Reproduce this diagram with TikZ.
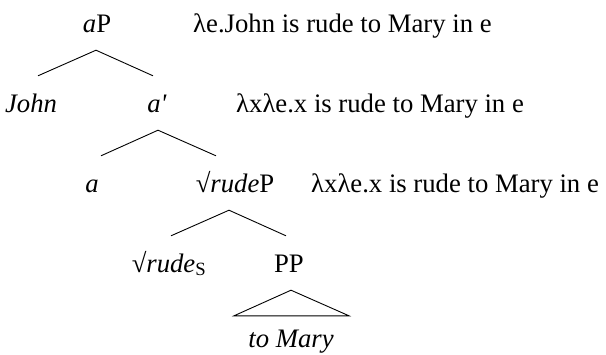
\documentclass[tikz,border=0pt]{standalone}
\usepackage{fontspec}
\setmainfont{Liberation Serif}
\begin{document}
\begin{tikzpicture}[x=1pt,y=-1pt,
        tnode/.style={anchor=base,inner sep=0pt,text height=36pt,text depth=18pt},
        sem/.style={anchor=base west,inner sep=0pt},
        branch/.style={line width=0.9pt}]
                \useasboundingbox (0,0) rectangle (606,354);
                {\fontsize{26.7}{32}\selectfont
                
                % Marking node aP
                \draw (97.000000,32.000000) node (aP) [tnode] {\textit{a}P};%
                \draw (193.000000,32.000000) node (semaP) [sem] {λe.John is rude to Mary in e};%
                
                % Marking nodes John and a'
                \draw (31.000000,112.000000) node (John) [tnode] {\textit{John}};%
                \draw (157.000000,112.000000) node (abar) [tnode] {\textit{a\textquotesingle}};%
                \draw (236.000000,112.000000) node (semabar) [sem] {λxλe.x is rude to Mary in e};%
                
                % Marking nodes a and rootP
                \draw (92.000000,192.000000) node (a) [tnode] {\textit{a}};%
                \draw (235.000000,192.000000) node (rootP) [tnode] {√\textit{rude}P};%
                \draw (311.000000,192.000000) node (semrootP) [sem] {λxλe.x is rude to Mary in e};%
                
                % Marking nodes root and PP
                \draw (169.000000,272.000000) node (root) [tnode] {√\textit{rude}\textsubscript{\upshape S}};%
                \draw (289.000000,272.000000) node (PP) [tnode] {PP};%
                
                % Marking node to Mary
                \draw (291.000000,347.000000) node (toMary) [tnode,text height=31pt,text depth=5pt] {\textit{to Mary}};%
                
                % Drawing branches aP John, aP a'
                \draw [branch] ([xshift=7pt]John.north) -- ([xshift=-1pt]aP.south) -- ([xshift=-4pt]abar.north);%
                
                % Drawing branches a' a, a' rootP
                \draw [branch] ([xshift=9pt]a.north) -- ([xshift=1pt]abar.south) -- ([xshift=-19pt]rootP.north);%
                
                % Drawing branches rootP root, rootP PP
                \draw [branch] ([xshift=2pt]root.north) -- ([xshift=-6pt]rootP.south) -- ([xshift=-3pt]PP.north);%
                
                % Drawing triangle PP to Mary
                \draw [branch] ([xshift=-57pt]toMary.north) -- ([xshift=2pt]PP.south) -- ([xshift=58pt]toMary.north) -- cycle;%
                }
\end{tikzpicture}
\end{document}
